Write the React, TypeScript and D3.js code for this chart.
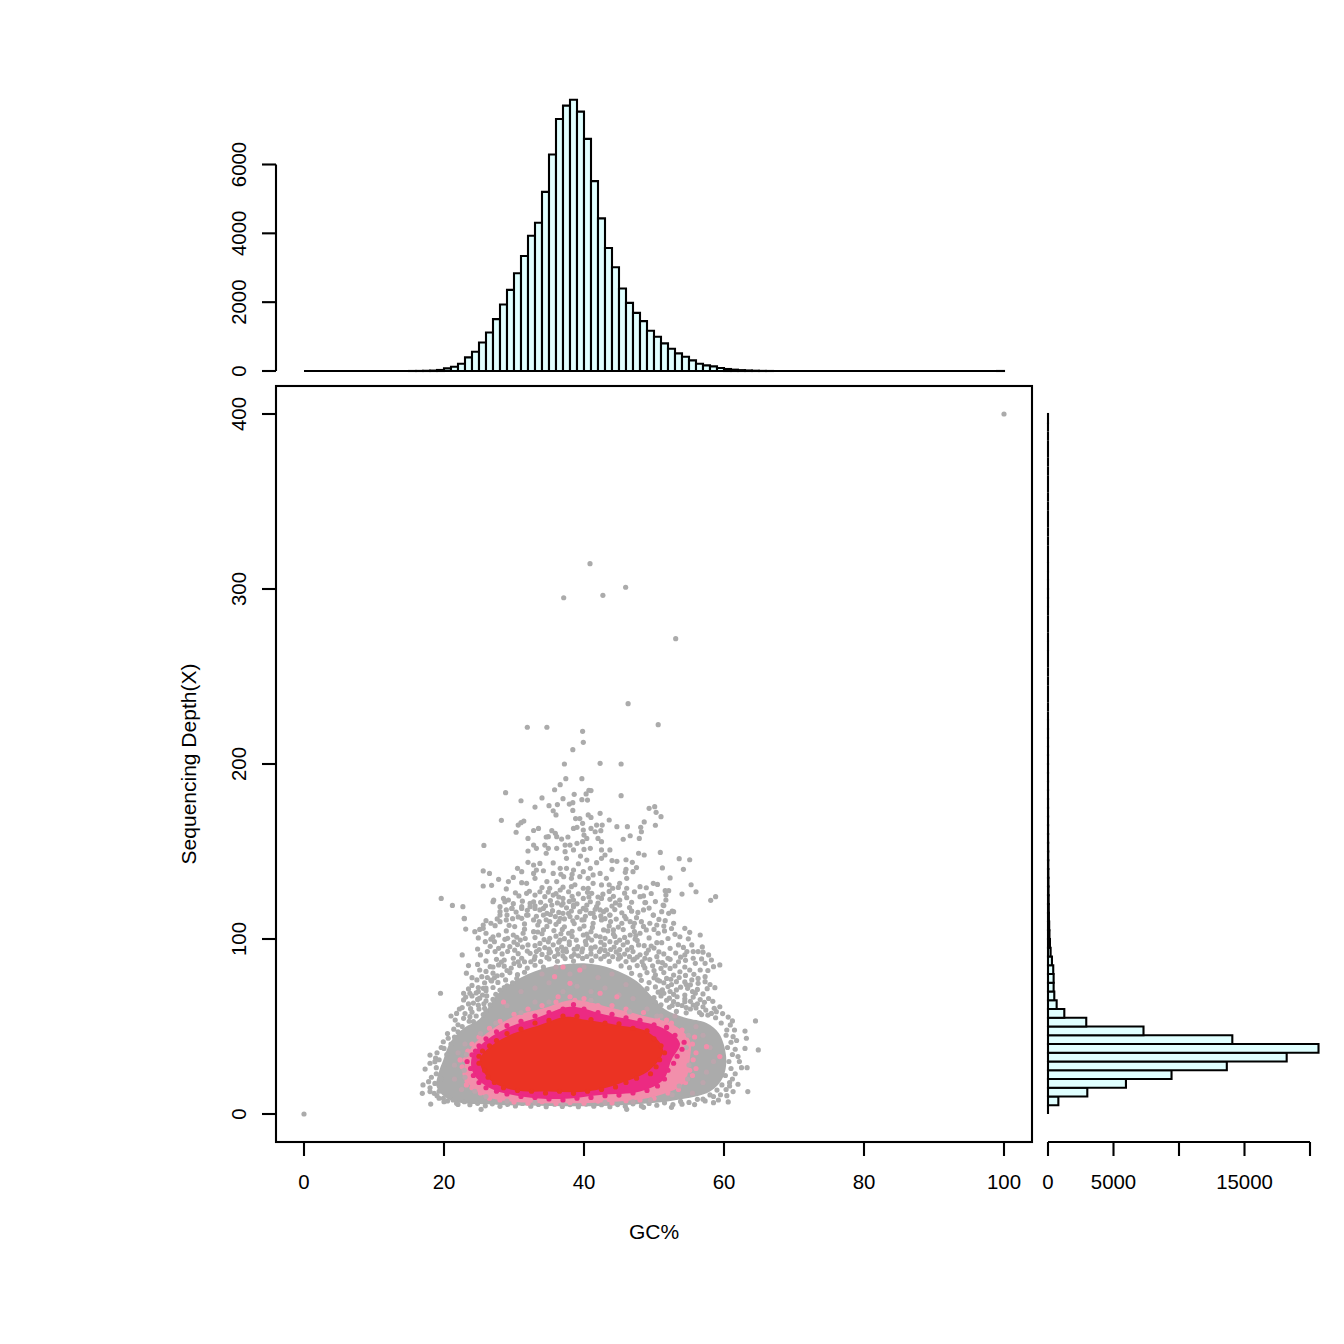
import React from "react";
import * as d3 from "d3";

const gcBins = d3.range(0, 100);
const gcCounts = [0,0,0,0,0,0,0,0,0,0,0,0,0,0,0,1,2,6,12,30,77,125,212,396,560,830,1120,1506,1932,2357,2840,3340,3930,4308,5206,6290,7322,7710,7880,7535,6744,5516,4435,3574,3014,2396,1980,1690,1449,1169,995,802,647,512,415,309,212,164,135,87,58,39,25,15,8,3,1,0,0,0,0,0,0,0,0,0,0,0,0,0,0,0,0,0,0,0,0,0,0,0,0,0,0,0,0,0,0,0,0,1];
const depthCounts = [0,790,3000,5950,9430,13650,18220,20650,14070,7290,2920,1245,660,480,430,430,400,300,200,150,110,90,70,60,50,40,35,28,22,18,14,10,8,6,5,4,3,3,2,2,2,1,1,1,1,0,0,0,0,0,0,0,0,1,0,0,0,0,1,1,1,0,1,0,0,0,0,0,0,0,0,0,0,0,0,0,0,0,0,1];
const xTicks = [0, 20, 40, 60, 80, 100];
const yTicks = [0, 100, 200, 300, 400];
const topTicks = [0, 2000, 4000, 6000];
const rightTicks = [0, 5000, 10000, 15000, 20000];
const rightLabels = [0, 5000, 15000];

const grayHull: [number, number][] = [[18.95,15.6],[20.85,8],[28,5.2],[35.1,4.6],[42.3,4.6],[48,5.7],[53.2,8],[58,12.8],[59.9,21.3],[60.3,32.8],[59.3,46],[57.5,52],[54.5,55],[51.5,60],[49.5,68],[47.5,76],[44,83],[40.4,86],[35,84],[31,78],[28,70],[26.5,62],[25,54],[22.8,49],[20.9,41],[19.9,30.9],[19.2,23.2]];
const pinkHull: [number, number][] = [[23,29],[23.5,17.5],[26.1,9.9],[29.9,7],[36.6,6.1],[44.2,7],[49.9,9.9],[54.2,17.5],[55.1,30.9],[55.1,42.3],[52.8,50.9],[48,56.6],[44.2,60.4],[38.5,65.2],[34.2,60.4],[29.9,55.6],[26.1,46.1],[24,38.5]];
const magentaHull: [number, number][] = [[24,32.8],[24.2,23.2],[26.6,14.7],[31.3,9.9],[36.6,8.6],[42.3,10.9],[48,12.8],[51.3,19.4],[52.5,30.9],[53.7,40.4],[51.3,49],[47,53.7],[43.2,56.6],[38,61.3],[33.7,55.6],[29.4,49.9],[26.1,42.3]];
const redHull: [number, number][] = [[25.1,30.9],[26.6,19.4],[29.9,13.7],[35.1,12.8],[40.4,12.8],[45.1,17.5],[49.4,25.2],[51.3,36.6],[49,47.1],[44.7,50.9],[40.4,53.7],[37.5,55.6],[33.7,50.9],[29.4,45.2],[26.6,38.5]];

const grayOutliers: [number, number][] = [[0,0],[100,400],[40.86,314.5],[45.95,301],[42.7,296.4],[37.1,295],[53.1,271.6],[46.3,234.5],[50.6,222.5],[31.9,221],[34.7,221],[39.8,218.7],[39.9,212.4],[38.4,208.2],[37.2,200],[42.3,200.4],[45.3,200],[37.4,191.6],[39.7,191.6],[28.8,183.6]];
const graySparse: [number, number][] = [[35.8,185.3],[36.6,188.2],[34,180.6],[31,179],[33,175.4],[35,176.2],[36.2,176.8],[35.6,173.3],[36,170.9],[37,180.2],[37.9,177.1],[38.4,177.9],[38.6,182.7],[38.4,173.5],[39.7,179.6],[40.5,179.4],[40.3,182.9],[40.7,185],[41,184.8],[45.3,181.9],[49.3,174.7],[50.1,175.6],[50.3,172.4],[51,169.9],[50.2,165],[28.2,167.8],[30.6,165.1],[31,166.5],[31.4,167.4],[30.3,161],[32.8,162],[33.5,163.2],[32,157.5],[35.4,161.9],[35.9,160.4],[34.6,158.3],[34.9,158.5],[36.1,158.5],[36.8,157.1],[37.7,158.3],[38.8,168.8],[39.4,168.8],[39.8,166.1],[40.6,170.9],[41,169.5],[42.3,171.8],[43.6,168],[41.8,165.1],[42.6,165.1],[44.7,164.2],[46.2,164.2],[48.6,166.9],[48.1,163.8],[48.2,161.3],[38.5,163.2],[39,163.8],[39.9,162.3],[41,163.2],[41.6,161.3],[42.4,161.9],[40,159.4],[40.4,157.5],[42,157.5],[46.6,159],[45.6,157],[47.9,157.5],[42.5,155.6],[25.7,153.5],[32.8,153.7],[33.2,151.8],[34.4,153.7],[34.9,151.8],[36.1,151.8],[32,150.3],[34.6,149],[37.3,153.7],[38,153.7],[39,154.7],[39.8,155.6],[38.5,150.9],[37.3,149.9],[40.9,151.8],[40,151.2],[42.5,150.9],[43.7,150.9],[43,148],[39.5,147.4],[37.5,146.1],[40.4,145.1],[42.5,146.1],[47.8,149],[48.6,148],[50.9,149.5],[53.6,145.9],[55.1,145.3],[44,144.8],[44.7,144.4],[46,145.3],[46.9,143.8],[47.5,140.8],[51.2,140.6],[54.2,139.8],[46,139.8],[45.9,138.1],[47,138.5],[46.1,134.7],[52.3,134.9],[55.3,131],[56,127],[54,125.7],[58.8,124.2],[58.1,122.1],[49.9,131.8],[50.5,131.2],[48,129.9],[48.9,129.3],[45.1,131.8],[46.1,129],[44.1,129],[44.9,129.5],[47.2,127],[51.6,127.6],[52.1,127.6],[51.7,125.1],[51.7,122.3],[48,124.2],[48.5,124.6],[46.1,123.6],[45.1,122.3],[43.7,122.7],[42.5,123.2],[48.7,120.8],[51.4,119.1],[49.3,117.7],[51.1,115.6],[52.6,116],[52.1,114.7],[49.9,113.7],[46.8,116],[45.4,115],[19.6,123.2],[21.2,119.2],[22.7,118.5],[22.9,111.8],[25.6,138.9],[26.5,137.5],[27.8,134.1],[25.6,130.3],[26.8,130.7],[29.2,132.8],[29.9,135.2],[30.5,140.4],[31.1,138.5],[32,143.8],[32.8,142.3],[33.7,143.2],[32.8,137.5],[33.2,139.4],[34.2,139],[33,134.7],[31.8,131.8],[31.1,132.2],[28.9,128.6],[27.1,122.3],[28.5,123.2],[29.2,122.3],[30.7,124.6],[31.8,126.1],[33,125.1],[28,118.5],[28.9,116.6],[29.7,117.5],[28,113.7],[31.1,118.5],[32.3,120.4],[33,117.5],[32,113.7],[34.2,117.5],[35.6,137.5],[36.6,140.4],[37.5,140.4],[38.5,139.4],[39.9,138.5],[40.9,140.4],[41.8,143.6],[36.1,132.8],[37.1,135.6],[38.2,134.7],[39.4,135.6],[40.6,134.7],[42.3,137.5],[43.2,134.7],[34.7,132.8],[35.1,129],[36.6,128],[38.2,129.9],[39.9,129],[41.3,131.8],[42.5,130.9],[33.7,127],[35.6,125.1],[34.4,124.2],[37,123.2],[38.5,122.3],[39.9,123.2],[41.1,126.1],[35.4,119.4],[36.8,119.4],[38.5,118.5],[40.4,119.4],[41.8,118.5],[43.2,116.6],[34.2,113.7],[37,114.7],[39.4,115.6],[41.3,114.7],[43.7,113.7]];
const grayMid: [number, number][] = [[22.9,111.6],[23.1,105.7],[22.6,90.9],[23.5,84.8],[19.5,69],[25.1,105.5],[25.6,106.1],[26,110.5],[26.7,109],[26,103.3],[27,101.3],[27.8,102.3],[28,109.9],[28.9,110.9],[27.2,98.5],[25.9,98.5],[26.2,92.8],[24.8,94.3],[25.2,90.9],[27.3,92.8],[27.8,94.7],[28.7,99.8],[29.9,102.3],[30.1,107.1],[31.1,111.8],[31.8,113.7],[32.8,110.9],[33.7,116.6],[34.7,114.7],[31.1,117.5],[32.3,118.5],[28,115.6],[29,113.7],[29.7,117.5],[27,121.3],[28.7,121.3],[32.8,121.3],[37,120.4],[38.5,119.4],[39.9,117.5],[40.9,114.7],[42.3,116.6],[43.7,113.7],[45.1,119.4],[46.8,116],[48.8,120.8],[49.9,113.7],[51.3,119.4],[52.8,115.6],[51.6,110.5],[52.8,109],[49.4,109],[48.2,109.9],[46.6,109.9],[45.4,109],[44.2,105.2],[42.5,110.9],[42.8,105.2],[41.3,109],[39.7,110.9],[38,112.8],[36.6,111.8],[35.1,109.9],[34.2,105.2],[32.8,104.2],[31.3,103.3],[30.9,99.4],[32,96.6],[29.4,95.6],[29.9,89],[31.1,89],[32.3,91.8],[33.7,97.5],[35.1,100.4],[36.6,99.4],[37.8,103.3],[38.9,99.4],[39.9,102.3],[41.1,99.4],[42.3,101.3],[43.7,98.5],[45.1,99.4],[46.6,102.3],[48,103.3],[48.9,105.2],[50.6,103.3],[53,102.7],[53.7,101.3],[54.4,106.1],[55.1,103.8],[56.6,102.3],[50.4,97.9],[51.1,97.9],[52.3,94.7],[53.5,96.6],[55.4,96.6],[47.8,96.6],[49.2,93.7],[54.7,92.8],[55.6,92.8],[56.3,92.8],[54.4,90.9],[55.6,89],[57.8,90.9],[58.2,88],[59.4,85.2],[58.5,84.2],[57.3,86.1],[55.9,86.1],[52,89],[53.5,87],[50.4,89.9],[48.9,91.8],[50.6,87],[52.3,83.2],[53.7,81.3],[55.1,82.3],[56.6,82.3],[55.4,76.6],[56.3,77.5],[57.3,78.5],[56.3,74.7],[57.3,75.6],[58.7,72.2],[55.9,69],[57,68.6],[54.4,68],[53.2,70.9],[52,72.8],[51.8,77.5],[53.2,75.6],[25.1,82.3],[24,77.9],[24.7,76.6],[25.4,78.5],[26.6,84.2],[27.8,85.2],[27.5,88.4],[22.8,69],[23.7,69],[24.8,65.5],[25.6,71.8],[22.8,65.2],[23.5,62.9],[21.8,57.5],[21.6,53.7],[22.8,54.7],[23.7,55.6],[24.2,52.8],[59.4,61.3],[58.2,57.5],[58.9,58.5],[57,61.3],[55.6,62.3],[54.4,64.2],[64.5,53.2],[63,47.4],[63.2,43.3],[63,37.5],[64.9,36.6],[61.3,44.2],[60.9,50.9],[62,32.8],[62.5,26.5],[63.3,26.5],[62,17],[63.4,12.8],[61.3,12.8],[60.6,6.9],[59.2,8],[59,13.7],[59.7,16.6],[58,10.9],[18,33.7],[18.7,29.9],[17.3,25.7],[18,29],[19.9,41.3],[20.6,43.3],[17,16.6],[16.9,11.8],[18,12.8],[18.6,11.8],[18.1,5.7],[19.3,9],[19.9,9],[21.3,8],[25.3,2.7],[46.1,2.7],[48.5,3.8],[52.5,3.8]];
const grayDense: [number, number][] = [[24.4,104.2],[28.9,104.6],[31.5,105.6],[33.4,104],[35.7,104.8],[36.9,105.5],[38.3,104.4],[39.4,105.8],[41,104.2],[43.4,104.6],[45.6,105.4],[47.2,104.3],[50,105.5],[51.5,104.6],[52.5,106],[24.9,100.6],[26.7,99.9],[29.1,100.4],[30.4,101],[31.6,100.3],[33,100.8],[34.3,99.7],[36,101.6],[37.2,100.2],[38.3,101.5],[40.6,100.7],[41.7,101.8],[43,100.4],[44.4,101.5],[45.8,100.9],[47.3,100],[49.3,100.6],[52,100.3],[54.9,100.1],[26.6,95.8],[28.4,96.2],[30.5,96.8],[31.2,95.4],[33,96.2],[34.4,95.1],[35.6,96.7],[36.8,95.4],[37.9,96.8],[39.1,95.6],[40.3,96.9],[41.6,95.5],[42.9,96.6],[44.3,95.4],[45.6,96.7],[46.8,95.2],[48.6,96.2],[50,94.8],[54.2,95.2],[56.9,95.5],[28.3,91.5],[29.1,92.9],[30.6,91.6],[33.2,92.8],[34,91.2],[35.2,92.6],[36.3,91.4],[37.5,92.8],[38.6,91.3],[39.7,92.7],[41,91.5],[42.2,92.8],[43.4,91.3],[44.6,92.6],[45.8,91.4],[47,92.8],[48,91],[51.4,91.5],[53.1,92],[57,92.5],[26,87.5],[28.6,88],[30.6,87],[32.9,88.4],[33.8,87.1],[35,88.6],[36.2,87.3],[37.3,88.8],[38.5,87.4],[39.8,88.9],[41.1,87.6],[42.4,88.7],[43.6,87.2],[44.9,88.6],[46,87.1],[47.2,88.5],[48.3,87],[49.4,88.3],[51.2,86.5],[54.5,87.8],[56.8,88.6],[24.8,85.5],[26,81.5],[28.6,84.5],[29.6,83.4],[30.8,84.8],[31.9,83.4],[33,85],[34.2,84],[45.3,84.6],[46.5,83.6],[47.6,84.8],[48.7,83.5],[49.8,84.7],[51,83.2],[53,84.6],[54.4,84],[57.7,82],[23.2,80.5],[27,80.5],[28.3,79.4],[29.4,80.8],[30.5,79.6],[31.5,81],[46.8,80.4],[48,79.3],[49,80.8],[50.2,79.5],[51.4,80.8],[52.8,79.4],[54.5,79.2],[55.7,79.8],[24,73.5],[25.8,75],[26.7,76.5],[27.7,75.2],[28.8,76.6],[29.8,75],[48.2,76.4],[49.3,75.1],[50.5,76.6],[51.4,75],[52.5,74],[54.4,75.5],[55.2,73.8],[58,74],[23.5,71.5],[24.9,72.3],[26,70.5],[27,72.3],[28,70.8],[49,71.6],[50.2,72.6],[51.2,71],[52.3,70],[53.8,72.5],[54.8,71.8],[56.2,71.2],[57.6,71.6],[22.2,60],[23.1,66.8],[24,67.5],[25.1,66.2],[26.1,67.5],[27,65.5],[50,66.5],[51,67.5],[52.2,66.2],[53.3,67],[54.4,65.8],[55.6,66.8],[56.6,65.4],[57.8,66],[58.4,64.4],[22.6,60.8],[23.8,60.2],[24.9,62.2],[25.8,60.4],[26.6,62.4],[51,62.4],[52.2,61],[53.4,62.6],[54.6,60.8],[56,60.6],[57.4,59.4],[58.6,60.4],[59.8,57.4],[60.6,55.4],[61.2,53.2],[21,56],[22,51],[20.5,46],[21.4,48.5],[19.6,38],[19,35],[18.8,32],[18.9,26.5],[18.2,21],[17.8,18.5],[18,15],[19,10.5],[20,7],[22,5.5],[61.5,48],[61.8,42],[61.6,37],[62.2,30],[61.6,23],[61.2,20],[60.8,16],[60.4,10.5],[57,8.5],[58.5,6.5],[55.8,5.4],[54,5.6],[25.6,108],[27.3,107.6],[29.3,107.8],[31.5,108.6],[33.4,108],[34.7,107.2],[36,108.4],[37.2,107],[38.6,108.8],[40,107.4],[41.2,106.6],[43.6,107.5],[44.9,106.8],[47,107],[48.5,107.2],[50.4,108],[51.4,107.4],[27.6,111.5],[29.8,111.6],[30.6,112.6],[33.2,113],[34.6,111],[35.9,112.8],[37.2,111.5],[39,112.4],[40,111],[41.5,112.4],[43,111.6],[44.6,111.4],[47.5,112.2],[50.7,111.2],[30.3,115.4],[31.9,116.4],[35.5,116.2],[36.4,115.2],[38.2,116],[40.3,116.6],[42.8,115.6],[44.4,116.8],[47.7,115.2],[48.5,116.6],[29.9,120.2],[31.2,121.6],[33.8,121],[35.2,122],[36.2,120.6],[37.9,121.5],[39,120.1],[40.9,121.3],[42,120.5],[44.5,120.6],[46.8,121],[50.2,121.4],[30.2,126.4],[32.2,127.3],[34.9,126.8],[36,126],[37.8,127],[39.2,125.8],[40.5,126.7],[42.7,125.6],[43.6,127.2],[45.8,126.2],[49.6,126]];
const grayFill: [number, number][] = [[30.1,93.6],[31.9,93.1],[32.4,87],[34.7,89.5],[35.8,90],[37,90.3],[38.2,90],[39.2,90.4],[40.4,90],[41.7,90.2],[42.9,90.1],[44.1,89.9],[45.2,89.6],[46.5,89.9],[47.6,89.7],[48.7,89],[33.6,94],[35,94.2],[36.2,94],[37.4,94.3],[38.6,94.1],[39.8,94.4],[41,94],[42.4,94.2],[43.8,94],[45.1,94],[46.2,93.8],[34.9,98.4],[36.4,98.2],[37.9,98.4],[40.2,98.6],[42.4,98.2],[44.6,98],[46.2,98.2],[47.6,99.2],[30,98.2],[28.2,86.8],[27,84],[26.2,78],[24.9,70],[49.6,96],[50.7,92.6],[52.3,88.4],[51.6,85],[53.8,89.6],[50,77.8],[52.4,77],[53.6,78],[54.6,74],[51.4,69],[50.6,69.6],[52.8,68.4],[55.5,70],[50.2,63.8],[52.8,64.2],[54,62],[55.2,64.4],[56.2,63],[57.2,63.8],[53.2,58.6],[54.6,57.8],[56.8,56.8],[25.6,56.8],[26,58.6],[24,58.2],[23,57.4],[24.2,63.4],[26,64.6],[24.6,69.2],[27.4,68.4],[29,73.2],[28.6,72.2],[30.4,77.4],[27.2,77.8],[34,103],[36.7,103],[40.4,102.8],[44.2,102.8],[47.4,102],[33.6,110],[36.4,110],[38.4,110.4],[43.8,110],[46,111.6],[47.2,109],[35.2,114],[37.8,114.6],[40.2,113],[42.4,113.2],[45.8,113],[33,119],[34.5,119],[37.5,117.8],[41.6,117],[44,118.8],[46.5,118],[36.4,124],[38.3,124.4],[40.7,124],[42,124],[44.2,124.4],[37,129.6],[38.7,131],[40.6,129],[43.6,131],[34,129.4],[38.3,137],[41.3,136.6],[36.7,137],[39.2,143],[35.6,143.5],[44,139.8]];
const grayEdge: [number, number][] = [[20.5,7.5],[21.8,6.2],[22.9,7],[23.7,5.3],[24.8,6.1],[25.9,4.7],[26.9,5.8],[28,4.4],[29.1,5.5],[30.2,4.6],[31.2,6],[32.4,4.5],[33.5,5.5],[34.6,4.2],[35.8,5.6],[36.9,4.3],[38,5.4],[39.2,4.2],[40.3,5.7],[41.4,4.5],[42.5,5.3],[43.7,4.2],[44.8,5.4],[45.9,4.4],[47,5.8],[48.2,4.6],[49.3,6],[50.4,5],[51.5,6.4],[52.7,5.4],[53.8,7.2],[55,6.6],[56.2,8.4],[57.3,7.5],[58.5,10],[59.5,11],[19.3,13],[18.7,17.5],[19.6,20],[18.9,23],[20,27],[19.3,31],[20.4,34],[20,37.5],[21,40],[21.5,44],[22,47],[22.6,50],[23.6,53],[24.6,56],[25,60],[25.7,63],[60.3,14],[60.8,18],[60.2,22],[61,26],[60.7,30],[61.2,34],[60.5,38],[61,41],[60.3,45],[60.4,48],[59.6,52],[58.8,55],[57.7,56.5],[56.5,58],[55.2,60],[25.5,68],[26,72],[26.8,76],[27.6,79],[29,82],[30,86],[31.5,87],[33,90],[35,92],[37,93],[39,94.5],[41,95],[43,93.5],[45,91],[47,88],[48.5,85],[50,82],[50.8,76],[51,70],[51.8,65],[52.6,62]];
const rosyPoints: [number, number][] = [[34,80],[36,84],[38,80],[40,84],[42,78],[44,80],[46,74],[33,72],[35,75],[37,70],[39,73],[41,70],[43,72],[45,68],[47,66],[31,70],[29,62],[33,64],[49,60],[51,56],[53,56],[56,50],[57,45],[58,38],[58.5,30],[57.5,24],[57,18],[55.5,12],[23,40],[22,35],[21.5,28],[21.5,20],[22.5,14]];
const pinkPoints: [number, number][] = [[23,31],[22.6,27],[23,23],[23.3,19],[24,15],[25.2,12],[26.5,9],[28,8],[30,6.8],[32,6.2],[34,7],[36,6],[38,6.6],[40,6.2],[42,7.4],[44,6.4],[46,7.6],[48,8],[50,9],[52,12],[53.5,14],[54.5,18],[55.5,22],[56,26],[55.6,31],[56,35],[55.5,40],[55.8,44],[54,48],[52.5,52],[50.5,54],[48.5,58],[46,60],[44,62],[42,62],[40,66],[38,67],[36,64],[34,62],[32,60],[30,57],[28,53],[26.5,49],[25,44],[24,40],[23.4,36],[35.8,78.5],[38,74.7],[36.3,67],[38.7,65],[39.4,82.3],[37,84],[28.5,64],[42.3,69],[44.7,67],[51.8,53.7],[53.2,48],[54.7,34.7],[55.1,25],[59.4,32.8],[57.5,38.5],[23.2,16.6],[22.3,30.9]];
const rosyOverPink: [number, number][] = [[54.8,20],[55,28],[54.6,38],[54.9,45],[53.6,16],[52.6,11],[49.5,8],[47,7],[43,6.6],[37,6.2],[33,6.6],[29,7.4],[26,10],[24.4,13],[23,21],[22.9,25],[23.2,34],[25.2,46],[27.4,52],[31,58],[35,64],[41,65],[46.5,58.5],[50.4,56]];
const magentaPoints: [number, number][] = [[24,33.8],[23.3,30],[23.8,26],[24.2,22],[25,18],[26,15],[27.5,13],[29,11.5],[31,10],[33,9.5],[35,8.6],[37,8],[39,9],[41,9.5],[43,10.5],[45,10.8],[47,12],[49,13.5],[50.5,16],[51.5,20],[52,25],[52.8,29],[53.3,33],[54,37],[54.3,41],[53,45],[51.8,49.5],[50,51],[48,53.5],[46,55],[44,57],[42,58],[40,60],[38.5,62.5],[37,60],[35,58],[33,56],[31,53],[29,50.5],[27.5,47],[26,43],[25,39],[24.5,36]];
const redPoints: [number, number][] = [[25,33],[25,29],[25.8,25],[26.3,21],[27.2,18],[28.5,15],[30.5,13.5],[32.5,13],[34.5,12],[36.5,13],[38.5,11.8],[40.5,13],[42.5,14],[44.5,15.5],[46,18],[47.5,20.5],[49.5,23],[50.3,27],[50.8,31],[51.5,35],[51,39],[50,43],[49,47.5],[47,49],[45,51.5],[43,52],[41,54],[39,55.8],[37,56],[35,53.5],[33,52],[31,48.5],[29,46],[27.5,42],[26.5,39],[25.5,36]];

const GRAY = "#ABABAB";
const ROSY = "#BCA6AD";
const PINK = "#F28FAB";
const MAGENTA = "#EC2A82";
const RED = "#EB3323";
const FONT = "'Liberation Sans', Arial, sans-serif";

export default function App() {
  const x = d3.scaleLinear().domain([0, 100]).range([304, 1004]);
  const y = d3.scaleLinear().domain([0, 400]).range([1114, 414]);
  const yTop = d3.scaleLinear().domain([0, 6000]).range([371, 164.5]);
  const xRight = d3.scaleLinear().domain([0, 20000]).range([1048, 1310]);
  const hull = d3.line<[number, number]>().x((d) => x(d[0])).y((d) => y(d[1])).curve(d3.curveCatmullRomClosed);
  const dots = (pts: [number, number][], color: string, key: string) =>
    pts.map((p, i) => <circle key={key + i} cx={x(p[0])} cy={y(p[1])} r={2.6} fill={color} />);
  const txt = { fontFamily: FONT, fontSize: 20.4, fill: "#000" } as const;
  const title = { fontFamily: FONT, fontSize: 21, fill: "#000" } as const;
  const rot = (yy: number, px: number) => `rotate(-90 ${px} ${yy})`;
  const line = { stroke: "#000", strokeWidth: 2.1, fill: "none" } as const;
  const bar = (x0: number, x1: number, y0: number, y1: number) => {
    const p = d3.path();
    p.rect(x0, y0, x1 - x0, y1 - y0);
    return p.toString();
  };

  return (
    <svg width={1344} height={1344} viewBox="0 0 1344 1344" style={{ position: "absolute", left: 0, top: 0, background: "#fff" }}>
      {/* top histogram */}
      <g>
        {gcBins.map((b) => (
          <path key={b} d={bar(x(b), x(b + 1), yTop(gcCounts[b]), yTop(0))} fill="#E0FFFF" stroke="#000" strokeWidth={2.1} />
        ))}
        <line x1={276} x2={276} y1={yTop(0)} y2={yTop(6000)} {...line} />
        {topTicks.map((t) => (
          <g key={t}>
            <line x1={262} x2={276} y1={yTop(t)} y2={yTop(t)} {...line} />
            <text x={246} y={yTop(t)} textAnchor="middle" transform={rot(yTop(t), 246)} {...txt}>{t}</text>
          </g>
        ))}
      </g>

      {/* scatter */}
      <path d={hull(grayHull) ?? ""} fill={GRAY} />
      {dots(grayOutliers, GRAY, "o")}
      {dots(graySparse, GRAY, "s")}
      {dots(grayMid, GRAY, "m")}
      {dots(grayDense, GRAY, "d")}
      {dots(grayFill, GRAY, "f")}
      {dots(grayEdge, GRAY, "e")}
      {dots(rosyPoints, ROSY, "ro")}
      <path d={hull(pinkHull) ?? ""} fill={PINK} />
      {dots(pinkPoints, PINK, "p")}
      {dots(rosyOverPink, ROSY, "rp")}
      <path d={hull(magentaHull) ?? ""} fill={MAGENTA} />
      {dots(magentaPoints, MAGENTA, "g")}
      <path d={hull(redHull) ?? ""} fill={RED} />
      {dots(redPoints, RED, "r")}

      <rect x={276} y={386} width={756} height={756} {...line} />
      {xTicks.map((t) => (
        <g key={t}>
          <line x1={x(t)} x2={x(t)} y1={1142} y2={1156} {...line} />
          <text x={x(t)} y={1189} textAnchor="middle" {...txt}>{t}</text>
        </g>
      ))}
      {yTicks.map((t) => (
        <g key={t}>
          <line x1={262} x2={276} y1={y(t)} y2={y(t)} {...line} />
          <text x={246} y={y(t)} textAnchor="middle" transform={rot(y(t), 246)} {...txt}>{t}</text>
        </g>
      ))}
      <text x={654} y={1239} textAnchor="middle" {...title}>GC%</text>
      <text x={196} y={764} textAnchor="middle" transform={rot(764, 196)} {...title}>Sequencing Depth(X)</text>

      {/* right histogram */}
      {depthCounts.map((c, i) => (
        <path key={i} d={bar(1048, xRight(c), y((i + 1) * 5), y(i * 5))} fill="#E0FFFF" stroke="#000" strokeWidth={2.1} />
      ))}
      <line x1={1048} x2={1310} y1={1142} y2={1142} {...line} />
      {rightTicks.map((t) => (
        <line key={t} x1={xRight(t)} x2={xRight(t)} y1={1142} y2={1156} {...line} />
      ))}
      {rightLabels.map((t) => (
        <text key={t} x={xRight(t)} y={1189} textAnchor="middle" {...txt}>{t}</text>
      ))}
    </svg>
  );
}
